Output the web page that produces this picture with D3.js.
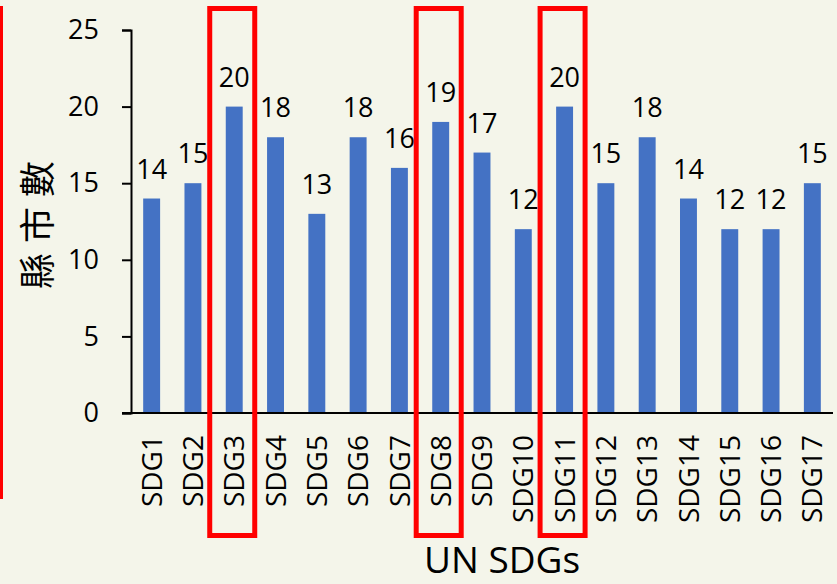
<!DOCTYPE html>
<html>
<head>
<meta charset="utf-8">
<script src="https://cdn.jsdelivr.net/npm/d3@7"></script>
<style>
  body { margin: 0; background: #f4f5ea; }
  svg { display: block; }
</style>
</head>
<body>
<div id="container"></div>
<script>
const width = 837;
const height = 584;

// Categories and values
const goals = [
  "SDG1", "SDG2", "SDG3", "SDG4", "SDG5", "SDG6", "SDG7", "SDG8", "SDG9",
  "SDG10", "SDG11", "SDG12", "SDG13", "SDG14", "SDG15", "SDG16", "SDG17",
];
const counts = [14, 15, 20, 18, 13, 18, 16, 19, 17, 12, 20, 15, 18, 14, 12, 12, 15];
const yTicks = [0, 5, 10, 15, 20, 25];
// goals boxed in red
const highlighted = ["SDG3", "SDG8", "SDG11"];

const latinFont = "'Open Sans', 'Liberation Sans', sans-serif";

const svg = d3
  .select("#container")
  .append("svg")
  .attr("width", width)
  .attr("height", height);

svg.append("rect").attr("width", width).attr("height", height).attr("fill", "#f4f5ea");

// red line on the left edge
svg.append("line")
  .attr("x1", 1.5).attr("x2", 1.5)
  .attr("y1", 6).attr("y2", 499)
  .attr("stroke", "#ff0000")
  .attr("stroke-width", 3);

const xScale = d3.scaleBand()
  .domain(goals)
  .range([131, 833])
  .paddingInner(0.59)
  .paddingOuter(0.295);

const yScale = d3.scaleLinear().domain([0, 25]).range([413, 30]);

// bars
svg.selectAll("rect.bar")
  .data(goals)
  .enter()
  .append("rect")
  .attr("class", "bar")
  .attr("x", (d) => xScale(d))
  .attr("width", xScale.bandwidth())
  .attr("y", (d, i) => yScale(counts[i]))
  .attr("height", (d, i) => yScale(0) - yScale(counts[i]))
  .attr("fill", "#4472c4");

// value labels
svg.selectAll("text.value")
  .data(goals)
  .enter()
  .append("text")
  .attr("class", "value")
  .attr("x", (d) => xScale(d) + xScale.bandwidth() / 2)
  .attr("y", (d, i) => yScale(counts[i]) - 20)
  .attr("text-anchor", "middle")
  .style("font-family", latinFont)
  .style("font-size", "27px")
  .attr("fill", "#000")
  .text((d, i) => counts[i]);

// y axis
const yAxis = svg.append("g")
  .attr("transform", "translate(131,0)")
  .call(d3.axisLeft(yScale).tickValues(yTicks).tickSize(9).tickPadding(23));
yAxis.select(".domain").attr("stroke", "#000").attr("stroke-width", 2);
yAxis.selectAll(".tick line").attr("stroke", "#000").attr("stroke-width", 2);
yAxis.selectAll(".tick text")
  .style("font-family", latinFont)
  .style("font-size", "27px")
  .attr("fill", "#000");

// x axis
const xAxis = svg.append("g")
  .attr("transform", "translate(0,413)")
  .call(d3.axisBottom(xScale).tickSize(0).tickSizeOuter(0));
xAxis.select(".domain").attr("stroke", "#000").attr("stroke-width", 2)
  .attr("d", "M122,0H833");
xAxis.selectAll(".tick text")
  .attr("transform", "rotate(-90)")
  .attr("x", -22)
  .attr("y", 0)
  .attr("dy", "0.36em")
  .attr("text-anchor", "end")
  .style("font-family", latinFont)
  .style("font-size", "28px")
  .attr("fill", "#000");

// red highlight boxes
svg.selectAll("rect.highlight")
  .data(highlighted)
  .enter()
  .append("rect")
  .attr("class", "highlight")
  .attr("x", (d) => xScale(d) + xScale.bandwidth() / 2 - 24.5)
  .attr("y", 8.5)
  .attr("width", 45)
  .attr("height", 527)
  .attr("fill", "none")
  .attr("stroke", "#ff0000")
  .attr("stroke-width", 5);

// axis titles
svg.append("text")
  .attr("x", 502)
  .attr("y", 573)
  .attr("text-anchor", "middle")
  .style("font-family", latinFont)
  .style("font-size", "37px")
  .attr("fill", "#000")
  .text("UN SDGs");

svg.append("text")
  .attr("transform", "translate(51,220) rotate(-90)")
  .attr("text-anchor", "middle")
  .style("font-family", "'Noto Sans CJK TC', sans-serif")
  .style("font-size", "36px")
  .style("letter-spacing", "10px")
  .attr("fill", "#000")
  .text("縣市數");
</script>
</body>
</html>
